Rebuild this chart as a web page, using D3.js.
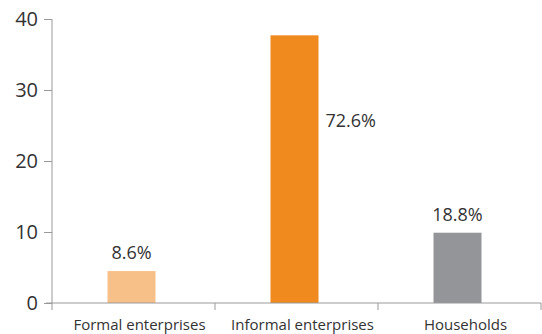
<!DOCTYPE html>
<html lang="en">
<head>
    <meta charset="UTF-8">
    <title>Chart</title>
    <style>
        body {
            margin: 0;
            padding: 0;
            background: #fff;
        }
        svg text {
            font-family: "Open Sans", "Noto Sans", sans-serif;
            fill: #333;
        }
    </style>
</head>
<body>
    <script src="https://d3js.org/d3.v7.min.js"></script>
    <script>
        const width = 542
        const height = 334

        const categories = ['Formal enterprises', 'Informal enterprises', 'Households']
        const values = [4.5, 37.7, 9.9]
        const shares = ['8.6%', '72.6%', '18.8%']
        const colors = ['#f8c089', '#f08a1e', '#939598']
        const yTicks = [0, 10, 20, 30, 40]

        const margin = { top: 19, right: 1, bottom: 31, left: 52 }

        const svg = d3.select('body')
            .append('svg')
            .attr('width', width)
            .attr('height', height)

        const x = d3.scaleBand()
            .domain(categories)
            .range([margin.left, width - margin.right])
            .padding(0)

        const y = d3.scaleLinear()
            .domain([0, 40])
            .range([height - margin.bottom, margin.top])

        const barW = 48

        // bars
        svg.selectAll('rect.bar')
            .data(categories)
            .join('rect')
            .attr('class', 'bar')
            .attr('x', d => x(d) + x.bandwidth() / 2 - barW / 2 - 2)
            .attr('width', barW)
            .attr('y', (d, i) => y(values[i]))
            .attr('height', (d, i) => y(0) - y(values[i]))
            .attr('fill', (d, i) => colors[i])

        // value labels
        svg.selectAll('text.share')
            .data(categories)
            .join('text')
            .attr('class', 'share')
            .attr('x', (d, i) => i === 1
                ? x(d) + x.bandwidth() / 2 + barW / 2 + 5
                : x(d) + x.bandwidth() / 2 - 2)
            .attr('y', (d, i) => i === 1 ? y(24.8) : y(values[i]) - 12)
            .attr('text-anchor', (d, i) => i === 1 ? 'start' : 'middle')
            .attr('font-size', 18)
            .text((d, i) => shares[i])

        // y axis
        const yAxis = svg.append('g')
            .attr('transform', `translate(${margin.left},0)`)
            .call(d3.axisLeft(y).tickValues(yTicks).tickSize(8).tickPadding(6))
        yAxis.select('.domain')
            .attr('d', `M0,${y(40)}V${y(0) + 7}`)
        yAxis.selectAll('line').attr('stroke', '#999')
        yAxis.select('.domain').attr('stroke', '#999')
        yAxis.selectAll('text')
            .attr('font-size', 20)
            .attr('fill', '#333')
            .style('font-family', '"Open Sans", sans-serif')

        // x axis
        const xAxis = svg.append('g')
            .attr('transform', `translate(0,${y(0)})`)
        xAxis.append('line')
            .attr('x1', margin.left - 6)
            .attr('x2', width - margin.right)
            .attr('stroke', '#999')
        xAxis.selectAll('line.sep')
            .data(categories)
            .join('line')
            .attr('class', 'sep')
            .attr('x1', d => x(d) + x.bandwidth())
            .attr('x2', d => x(d) + x.bandwidth())
            .attr('y1', 0)
            .attr('y2', 7)
            .attr('stroke', '#999')
        xAxis.selectAll('text')
            .data(categories)
            .join('text')
            .attr('x', d => x(d) + x.bandwidth() / 2 + 6)
            .attr('y', 27)
            .attr('text-anchor', 'middle')
            .attr('font-size', 15)
            .text(d => d)
    </script>
</body>
</html>
